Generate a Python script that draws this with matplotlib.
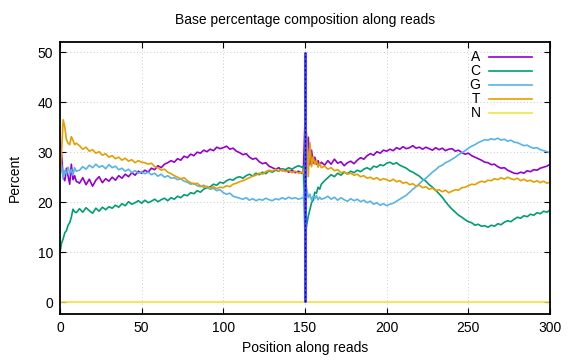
import matplotlib
matplotlib.use("Agg")
import matplotlib.pyplot as plt

# positions along reads (denser sampling at the start and around the read join)
position = (list(range(0, 11)) + list(range(12, 149, 2))
            + list(range(149, 161)) + list(range(162, 301, 2)))

a_pct = [
    32.4, 29.5, 25.0, 24.3, 26.8, 25.2, 23.6, 27.6, 24.5, 25.3, 24.2,
    23.8, 24.9, 23.5, 24.6, 23.2, 24.4, 25.1, 23.9, 24.7, 24.2,
    25.0, 24.4, 25.3, 24.8, 25.6, 25.1, 25.9, 25.4, 26.2, 25.8,
    26.4, 26.0, 26.8, 26.5, 27.3, 26.9, 27.6, 27.9, 28.3, 28.0,
    28.7, 28.4, 29.2, 28.9, 29.6, 29.3, 30.0, 29.8, 30.4, 30.1,
    30.6, 30.3, 31.0, 30.7, 30.9, 31.2, 30.6, 30.8, 30.2, 29.9,
    29.5, 29.7, 29.0, 28.6, 28.8, 28.1, 27.7, 27.9, 27.2, 26.9,
    26.6, 26.9, 26.3, 26.5, 26.0, 26.4, 25.9, 26.2, 25.8,
    26.0, 36.2, 30.5, 33.0, 27.5, 30.4, 27.8, 29.0, 27.6, 28.3, 27.4, 28.0,
    27.4, 28.3, 27.6, 28.6, 27.8, 28.1, 27.3, 27.9, 28.2, 27.7,
    28.4, 28.9, 28.6, 29.3, 29.7, 29.4, 30.1, 29.8, 30.4, 30.2,
    30.6, 30.3, 30.9, 30.6, 31.1, 30.7, 30.9, 31.3, 30.8, 31.0,
    30.6, 31.0, 30.7, 30.4, 30.9, 30.5, 30.8, 30.3, 30.6, 30.7,
    30.2, 30.4, 29.9, 29.6, 29.8, 29.3, 29.0, 28.7, 28.4, 28.0,
    27.9, 27.5, 27.6, 27.1, 26.8, 26.9, 26.4, 26.1, 25.8, 25.7,
    26.0, 25.8, 26.3, 26.1, 26.5, 26.4, 26.8, 27.0, 27.2, 27.6,
]

c_pct = [
    9.9, 11.8, 12.7, 13.9, 14.3, 15.4, 15.9, 17.0, 18.6, 18.1, 17.9,
    18.7, 18.0, 18.9, 18.3, 17.8, 18.8, 18.2, 19.0, 18.5, 19.1,
    18.8, 19.4, 19.0, 19.7, 19.3, 20.1, 19.6, 19.9, 20.3, 19.8,
    20.4, 19.9, 20.2, 20.6, 20.1, 20.5, 20.8, 20.3, 20.9, 20.6,
    21.2, 20.9, 21.5, 21.3, 21.9, 21.7, 22.3, 22.0, 22.6, 22.9,
    23.1, 23.6, 23.4, 24.0, 23.8, 24.3, 24.6, 24.4, 24.9, 25.1,
    24.8, 25.3, 25.6, 25.2, 25.8, 25.5, 26.0, 25.7, 26.3, 26.0,
    26.4, 26.2, 26.7, 26.5, 26.9, 26.6, 27.0, 27.3, 27.0,
    27.2, 13.1, 15.4, 17.2, 18.5, 19.9, 20.4, 22.0, 21.8, 23.0, 22.6, 23.6,
    24.3, 24.9, 25.5, 25.1, 25.8, 25.4, 26.0, 25.7, 26.2, 25.9,
    26.4, 26.1, 26.6, 26.9, 26.5, 27.2, 27.0, 27.5, 27.3, 27.8,
    28.0, 27.6, 27.9, 27.4, 27.1, 26.8, 26.3, 26.0, 25.6, 25.2,
    24.6, 24.2, 23.5, 23.0, 22.4, 21.7, 21.0, 20.1, 19.3, 18.6,
    18.0, 17.4, 17.0, 16.5, 16.1, 15.9, 15.4, 15.6, 15.2, 15.3,
    15.0, 15.4, 15.2, 15.7, 15.5, 16.0, 16.3, 16.1, 16.6, 17.0,
    16.8, 17.3, 17.1, 17.6, 17.4, 17.9, 17.7, 18.2, 18.0, 18.4,
]

g_pct = [
    25.0, 27.5, 24.8, 26.3, 25.6, 27.0, 25.8, 26.5, 25.4, 26.9, 26.2,
    26.4, 27.1, 26.6, 27.4, 26.9, 27.6, 27.0, 27.3, 26.7, 27.5,
    26.9, 27.2, 26.5, 26.8, 26.2, 26.6, 25.9, 26.3, 25.8, 26.1,
    25.7, 26.0, 25.5, 25.8, 25.2, 25.6, 25.0, 25.3, 24.8, 24.9,
    24.5, 24.7, 24.2, 24.0, 23.6, 23.8, 23.3, 23.1, 23.4, 22.9,
    22.6, 22.8, 22.3, 22.5, 21.9, 21.6, 21.8, 21.2, 21.0, 20.8,
    20.6, 20.9, 20.4, 20.7, 20.3, 20.6, 20.4, 20.8, 20.5, 20.3,
    20.7, 20.5, 20.9, 20.6, 21.0, 20.7, 20.9, 20.6, 20.8,
    20.9, 24.6, 22.8, 20.9, 21.6, 20.4, 21.2, 20.7, 21.3, 20.5, 21.0, 20.6,
    20.8, 21.2, 20.6, 21.0, 20.4, 20.9, 20.5, 20.2, 20.7, 20.3,
    20.6, 20.1, 20.4, 19.9, 20.2, 19.6, 19.9, 19.4, 19.7, 19.3,
    19.6, 19.8, 20.2, 20.6, 21.0, 21.4, 22.0, 22.6, 23.1, 23.7,
    24.3, 24.8, 25.4, 26.0, 26.5, 27.1, 27.4, 27.9, 28.2, 28.6,
    29.0, 29.5, 29.9, 30.3, 30.8, 31.2, 31.5, 31.9, 32.2, 32.5,
    32.4, 32.7, 32.5, 32.8, 32.4, 32.6, 32.2, 32.4, 32.0, 31.9,
    31.6, 31.3, 31.4, 31.0, 30.8, 30.9, 30.5, 30.3, 30.1, 29.9,
]

t_pct = [
    25.1, 30.0, 36.5, 35.0, 32.5, 31.8, 31.5, 33.1, 32.4, 31.5, 31.8,
    31.3, 30.6, 31.0, 30.2, 30.5, 29.8, 30.1, 29.4, 29.7, 29.0,
    29.3, 28.7, 29.0, 28.4, 28.8, 28.2, 28.5, 27.9, 28.3, 28.0,
    27.9, 27.6, 27.8, 27.1, 26.9, 26.4, 26.6, 26.0, 25.7, 25.3,
    25.0, 24.7, 24.9, 24.3, 23.9, 23.6, 23.8, 23.3, 23.0, 23.2,
    22.8, 23.1, 22.7, 23.0, 22.9, 23.3, 23.1, 23.6, 23.8, 24.1,
    24.3, 24.6, 24.9, 25.2, 25.4, 25.8, 25.6, 26.1, 26.4, 26.2,
    26.6, 26.3, 26.5, 26.1, 26.4, 25.9, 26.2, 25.8, 26.0,
    25.8, 27.0, 33.8, 25.1, 31.9, 27.1, 29.1, 27.6, 28.4, 27.0, 27.8, 26.9,
    27.2, 26.6, 26.9, 26.3, 26.5, 25.9, 26.1, 25.6, 25.8, 25.4,
    25.6, 25.1, 25.3, 24.8, 25.0, 24.6, 24.9, 24.4, 24.7, 24.5,
    24.2, 24.6, 24.1, 24.3, 23.8, 24.0, 23.5, 23.7, 23.2, 23.4,
    22.9, 23.1, 22.6, 22.8, 22.3, 22.5, 22.1, 22.4, 21.9, 22.2,
    22.5, 22.4, 22.9, 23.0, 23.3, 23.6, 23.5, 23.9, 24.2, 24.0,
    24.4, 24.3, 24.7, 24.5, 24.9, 24.6, 25.0, 24.7, 24.5, 24.8,
    24.3, 24.6, 24.2, 24.4, 24.0, 24.3, 23.9, 24.2, 23.8, 24.0,
]

n_pct = [0.0] * len(position)

bases = ['A', 'C', 'G', 'T', 'N']
colors = ['#9400d3', '#009e73', '#56b4e9', '#e69f00', '#f0e442']
read_join = 150

plt.rcParams['font.family'] = ['Liberation Sans', 'DejaVu Sans']
fig = plt.figure(figsize=(5.76, 3.6), dpi=100)
ax = fig.add_axes([0.104, 0.127, 0.851, 0.756])

for base, vals, col in zip(bases, [a_pct, c_pct, g_pct, t_pct, n_pct], colors):
    ax.plot(position, vals, color=col, lw=1.2, label=base)

# marker for where the second read starts
ax.vlines(read_join, 0, 50, color='#4a4aff', lw=2.2, zorder=5)
ax.vlines(read_join, 0, 50, color='#0000c0', lw=0.8, linestyles=(0, (2, 2)), zorder=6)

ax.set_xlim(0, 300)
ax.set_ylim(-2.4, 52)
ax.set_xticks(range(0, 301, 50))
ax.set_yticks(range(0, 51, 10))
ax.tick_params(direction='in', length=4, width=0.8, top=True, right=True,
               labelsize=10, pad=5)
for s in ax.spines.values():
    s.set_linewidth(1.3)
ax.grid(True, color='#bbbbbb', lw=0.6, linestyle=(0, (1, 3)))

ax.set_title('Base percentage composition along reads', fontsize=10, pad=13)
ax.set_xlabel('Position along reads', fontsize=10, labelpad=4)
ax.set_ylabel('Percent', fontsize=10, labelpad=11)

ax.legend(loc='upper right', bbox_to_anchor=(0.98, 1.0), frameon=False,
          markerfirst=False, handlelength=3.1, handletextpad=0.6,
          labelspacing=0.0, fontsize=10, borderaxespad=0.2)

fig.savefig('out.png', dpi=100)
